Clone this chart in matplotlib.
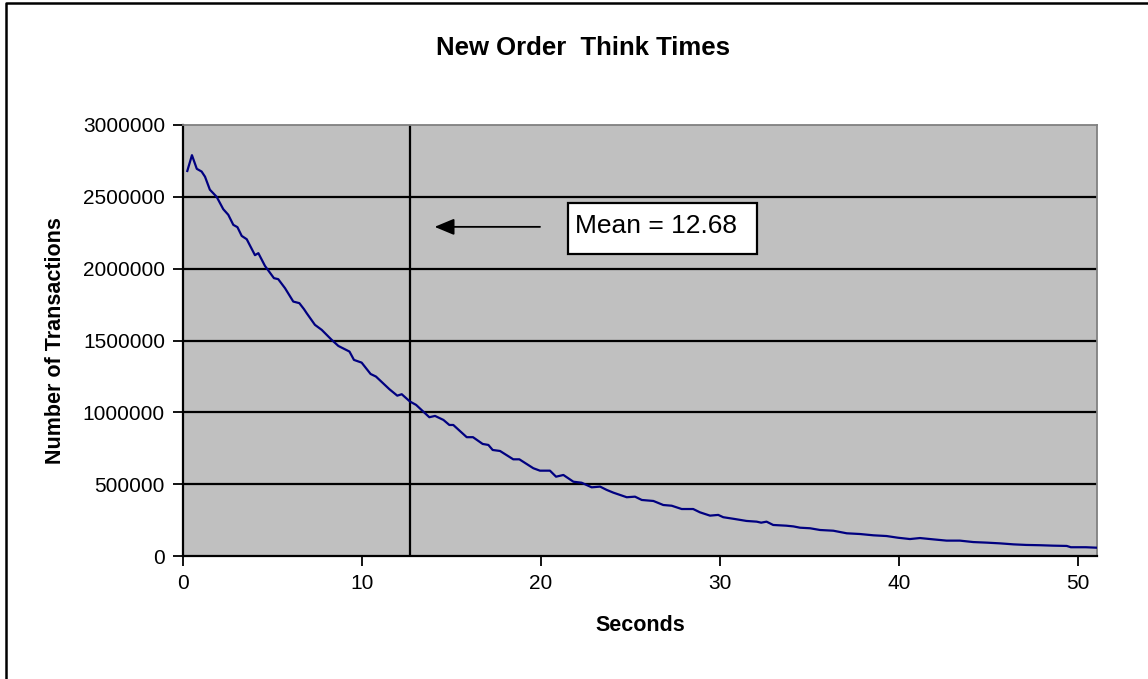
import matplotlib
matplotlib.use('Agg')
import matplotlib.pyplot as plt
from matplotlib.patches import Rectangle
from matplotlib.lines import Line2D

matplotlib.rcParams['font.family'] = ['Liberation Sans', 'DejaVu Sans']

# 읽어낸 데이터 (초, 트랜잭션 수)
seconds = [0.24, 0.5, 0.77, 1.04, 1.23, 1.5, 1.88, 2.25, 2.53, 2.81, 3.04, 3.28, 3.56,
           4.02, 4.21, 4.58, 5.08, 5.32, 5.70, 6.16, 6.50, 6.76, 6.91, 7.37, 7.75,
           8.31, 8.68, 9.30, 9.55, 9.98, 10.48, 10.78, 11.53, 11.97, 12.22, 12.68,
           13.02, 13.76, 14.08, 14.55, 14.88, 15.1, 15.85, 16.2, 16.74, 17.06, 17.3,
           17.71, 18.45, 18.79, 19.57, 19.94, 20.5, 20.84, 21.25, 21.81, 22.27, 22.83,
           23.3, 23.67, 24.04, 24.79, 25.25, 25.63, 26.28, 26.83, 27.3, 27.86, 28.5,
           28.88, 29.44, 29.9, 30.18, 30.8, 31.48, 32.05, 32.3, 32.6, 32.97, 33.7,
           34.1, 34.47, 35.03, 35.59, 36.33, 37.08, 37.82, 38.57, 39.3, 39.95, 40.61,
           41.17, 41.9, 42.66, 43.4, 44.15, 44.9, 45.64, 46.4, 47.1, 47.88, 48.6,
           49.37, 49.6, 50.44, 51.0]
transactions = [2680000, 2790000, 2695000, 2676000, 2640000, 2550000, 2500000, 2414000,
                2375000, 2305000, 2289000, 2228000, 2205000, 2094000, 2108000, 2019000,
                1934000, 1927000, 1864000, 1771000, 1760000, 1718000, 1690000, 1609000,
                1574000, 1504000, 1462000, 1423000, 1365000, 1346000, 1267000, 1249000,
                1161000, 1116000, 1126000, 1075000, 1052000, 966000, 975000, 947000,
                912000, 912000, 827000, 827000, 780000, 773000, 738000, 731000, 673000,
                673000, 611000, 594000, 594000, 552000, 564000, 517000, 510000, 478000,
                483000, 460000, 441000, 409000, 413000, 390000, 383000, 355000, 350000,
                327000, 327000, 304000, 281000, 286000, 270000, 258000, 244000, 239000,
                232000, 239000, 216000, 211000, 206000, 197000, 193000, 181000, 176000,
                158000, 153000, 144000, 139000, 127000, 118000, 125000, 116000, 107000,
                107000, 97000, 93000, 88000, 81000, 77000, 75000, 72000, 70000, 61000,
                61000, 58000]
mean_value = 12.68
x_ticks = [0, 10, 20, 30, 40, 50]
y_ticks = [0, 500000, 1000000, 1500000, 2000000, 2500000, 3000000]

fig = plt.figure(figsize=(11.48, 6.79), dpi=100)
ax = fig.add_axes([183 / 1148, 1 - 556 / 679, (1097 - 183) / 1148, (556 - 125) / 679])
ax.set_facecolor('#C0C0C0')

# 가로 격자선
for yv in y_ticks[1:-1]:
    ax.axhline(yv, color='black', lw=1.6, zorder=1)

ax.plot(seconds, transactions, color='#000080', lw=1.6, zorder=3)
ax.axvline(mean_value, color='black', lw=1.6, zorder=2)

ax.set_xlim(0, 51.06)
ax.set_ylim(0, 3000000)
ax.set_xticks(x_ticks)
ax.set_yticks(y_ticks)
ax.set_yticklabels([str(v) for v in y_ticks])
ax.tick_params(axis='both', labelsize=15, length=7, width=1.3, direction='out', pad=6)

for side in ['left', 'bottom']:
    ax.spines[side].set_color('black')
    ax.spines[side].set_linewidth(1.6)
for side in ['top', 'right']:
    ax.spines[side].set_color('#808080')
    ax.spines[side].set_linewidth(1.3)

ax.set_xlabel('Seconds', fontsize=15.5, fontweight='bold', labelpad=16)
ax.set_ylabel('Number of Transactions', fontsize=15.5, fontweight='bold', labelpad=12)
fig.text(583 / 1148, 1 - 48 / 679, 'New Order  Think Times', fontsize=18.5, fontweight='bold',
         ha='center', va='center')

# 평균 라벨 박스와 화살표
ax.add_patch(Rectangle((21.5, 2103000), 10.57, 355000, facecolor='white',
                       edgecolor='black', lw=1.6, zorder=4))
ax.text(21.9, 2249000, 'Mean = 12.68', fontsize=19, va='baseline', ha='left', zorder=5)
ax.annotate('', xy=(13.9, 2291000), xytext=(20.1, 2291000),
            arrowprops=dict(arrowstyle='-|>,head_length=0.6,head_width=0.25',
                            mutation_scale=20, color='black', lw=1.3), zorder=5)

# 바깥 테두리 (위, 왼쪽만 보임)
fig.lines.append(Line2D([0.005, 0.005, 1.0], [0.0, 0.995, 0.995], transform=fig.transFigure,
                        color='black', lw=1.8))

fig.savefig('out.png', dpi=100)
